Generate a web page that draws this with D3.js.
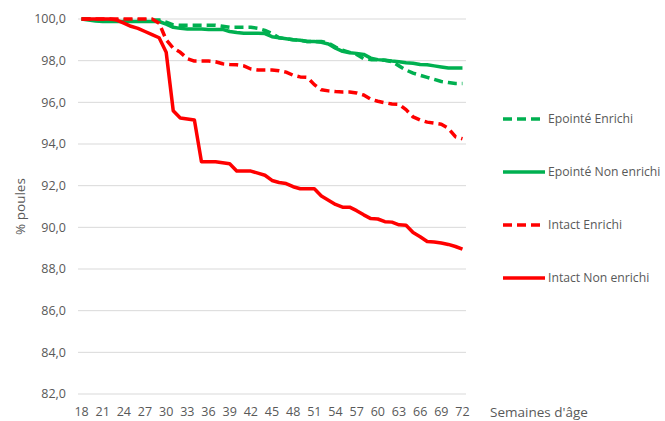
<!DOCTYPE html>
<html>
<head>
<meta charset="utf-8">
<script src="https://cdn.jsdelivr.net/npm/d3@7"></script>
<style>
  body { margin: 0; background: #fff; }
  svg text { font-family: "Open Sans", Lato, sans-serif; fill: #595959; }
</style>
</head>
<body>
<svg id="chart" width="665" height="421"></svg>
<script>
// weeks of age, 18 -> 72
const weeks = d3.range(18, 73);
const tickWeeks = d3.range(18, 73, 3);
const yTicks = [82, 84, 86, 88, 90, 92, 94, 96, 98, 100];

// % hens alive, one value per week
const epointeEnrichi = [
  100, 100, 99.95, 99.95, 99.95, 99.95, 99.95, 99.95, 99.95, 99.95, 99.95, 99.95,
  99.85, 99.72, 99.7, 99.7, 99.7, 99.7, 99.7, 99.7, 99.65, 99.6, 99.6, 99.6, 99.6,
  99.55, 99.45, 99.3, 99.1, 99.05, 99.0, 98.98, 98.92, 98.92, 98.92, 98.85, 98.65,
  98.5, 98.4, 98.3, 98.1, 98.05, 98.05, 98.02, 97.95, 97.75, 97.55, 97.4, 97.3,
  97.2, 97.1, 97.0, 96.95, 96.9, 96.9
];
const epointeNonEnrichi = [
  100, 99.95, 99.9, 99.88, 99.88, 99.88, 99.88, 99.88, 99.88, 99.88, 99.88, 99.88,
  99.75, 99.6, 99.55, 99.52, 99.52, 99.52, 99.5, 99.5, 99.5, 99.4, 99.35, 99.32,
  99.32, 99.32, 99.3, 99.15, 99.1, 99.05, 99.0, 98.98, 98.92, 98.92, 98.88, 98.8,
  98.6, 98.45, 98.38, 98.35, 98.3, 98.12, 98.05, 98.02, 97.98, 97.95, 97.9, 97.88,
  97.82, 97.8, 97.75, 97.7, 97.65, 97.65, 97.65
];
const intactEnrichi = [
  100, 100, 100, 100, 100, 100, 100, 100, 100, 100, 100, 99.8, 99.0, 98.6, 98.4,
  98.1, 97.98, 97.98, 97.98, 97.95, 97.85, 97.82, 97.8, 97.75, 97.6, 97.55, 97.55,
  97.55, 97.52, 97.45, 97.3, 97.22, 97.2, 96.85, 96.6, 96.55, 96.52, 96.5, 96.5,
  96.45, 96.35, 96.15, 96.05, 95.98, 95.92, 95.9, 95.65, 95.3, 95.15, 95.05, 95.0,
  94.95, 94.75, 94.35, 94.25
];
const intactNonEnrichi = [
  100, 100, 100, 100, 100, 99.95, 99.8, 99.65, 99.55, 99.4, 99.25, 99.1, 98.4,
  95.6, 95.25, 95.2, 95.15, 93.15, 93.15, 93.15, 93.1, 93.05, 92.7, 92.7, 92.7,
  92.6, 92.5, 92.25, 92.15, 92.1, 91.95, 91.85, 91.85, 91.85, 91.5, 91.3, 91.1,
  90.97, 90.97, 90.8, 90.6, 90.42, 90.4, 90.27, 90.25, 90.12, 90.1, 89.75, 89.55,
  89.32, 89.3, 89.25, 89.18, 89.08, 88.95
];

const seriesNames = ["Epointé Enrichi", "Epointé Non enrichi", "Intact Enrichi", "Intact Non enrichi"];
const seriesValues = [epointeEnrichi, epointeNonEnrichi, intactEnrichi, intactNonEnrichi];
const seriesColors = ["#00B050", "#00B050", "#FF0000", "#FF0000"];
const seriesDashed = [true, false, true, false];

const series = seriesNames.map((name, i) => ({
  name,
  color: seriesColors[i],
  dashed: seriesDashed[i],
  values: seriesValues[i].map((v, j) => ({ week: weeks[j], value: v }))
}));

const svg = d3.select("#chart");

const x = d3.scalePoint()
  .domain(weeks)
  .range([78, 466])
  .padding(0.5);

const y = d3.scaleLinear()
  .domain([82, 100])
  .range([394, 19]);

// horizontal gridlines
svg.append("g")
  .selectAll("line")
  .data(yTicks)
  .join("line")
  .attr("x1", 78)
  .attr("x2", 466)
  .attr("y1", (d) => y(d))
  .attr("y2", (d) => y(d))
  .attr("stroke", "#d9d9d9")
  .attr("stroke-width", 1);

// y tick labels
const fmt = (d) => d3.format(".1f")(d).replace(".", ",");
svg.append("g")
  .selectAll("text")
  .data(yTicks)
  .join("text")
  .attr("x", 66)
  .attr("y", (d) => y(d))
  .attr("dy", "0.35em")
  .attr("text-anchor", "end")
  .style("font-size", "12.5px")
  .text(fmt);

// x tick labels
svg.append("g")
  .selectAll("text")
  .data(tickWeeks)
  .join("text")
  .attr("x", (d) => x(d))
  .attr("y", 412)
  .attr("dy", "0.35em")
  .attr("text-anchor", "middle")
  .style("font-size", "12.5px")
  .text((d) => d);

// axis titles
svg.append("text")
  .attr("x", 490)
  .attr("y", 412)
  .attr("dy", "0.35em")
  .style("font-size", "13.5px")
  .text("Semaines d'âge");

svg.append("text")
  .attr("transform", `translate(20, ${(y(82) + y(100)) / 2}) rotate(-90)`)
  .attr("dy", "0.35em")
  .attr("text-anchor", "middle")
  .style("font-size", "13.5px")
  .text("% poules");

// lines
const line = d3.line()
  .x((d) => x(d.week))
  .y((d) => y(d.value));

svg.append("g")
  .selectAll("path")
  .data(series)
  .join("path")
  .attr("d", (d) => line(d.values))
  .attr("fill", "none")
  .attr("stroke", (d) => d.color)
  .attr("stroke-width", 3.5)
  .attr("stroke-linejoin", "round")
  .attr("stroke-dasharray", (d) => (d.dashed ? "9,5" : null));

// legend
const legend = svg.append("g")
  .selectAll("g")
  .data(series)
  .join("g")
  .attr("transform", (d, i) => `translate(503, ${119 + i * 53})`);

legend.append("line")
  .attr("x1", 0)
  .attr("x2", 42)
  .attr("stroke", (d) => d.color)
  .attr("stroke-width", 3.5)
  .attr("stroke-dasharray", (d) => (d.dashed ? "9,5" : null));

legend.append("text")
  .attr("x", 45)
  .attr("dy", "0.35em")
  .style("font-size", "12.2px")
  .text((d) => d.name);
</script>
</body>
</html>
